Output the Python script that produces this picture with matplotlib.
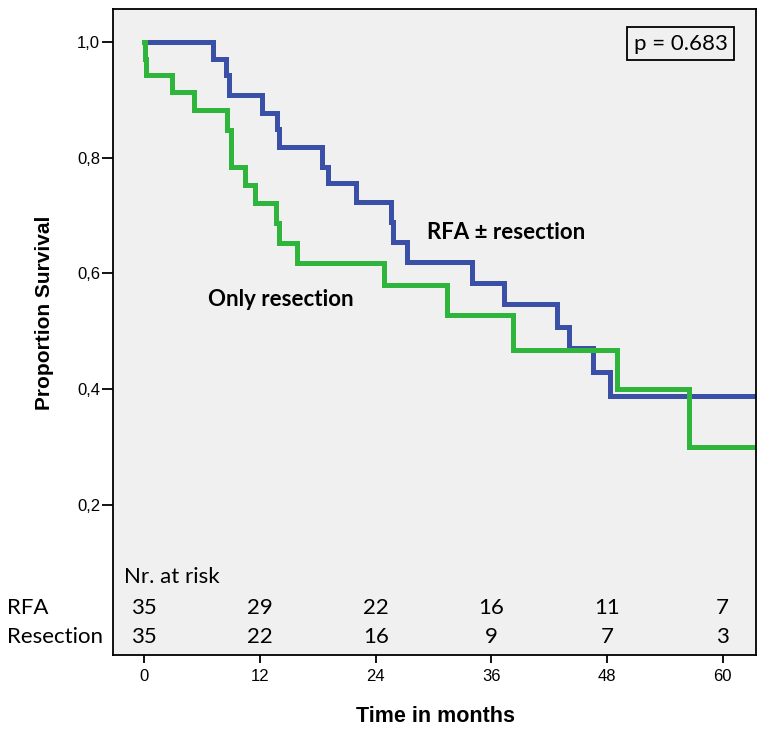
import matplotlib
matplotlib.use("Agg")
import matplotlib.pyplot as plt
import matplotlib.transforms as mtransforms

# Kaplan-Meier step data (months, proportion surviving)
rfa_time = [0, 7.1, 8.5, 8.8, 12.2, 13.8, 14.0, 18.4, 19.1, 22.0, 25.6, 25.8,
            27.2, 34.0, 37.3, 42.8, 44.1, 46.5, 48.3, 64]
rfa_surv = [1.0, 0.971, 0.943, 0.909, 0.877, 0.850, 0.819, 0.784, 0.756, 0.723,
            0.689, 0.654, 0.620, 0.583, 0.547, 0.507, 0.471, 0.430, 0.388, 0.388]

res_time = [0, 0.1, 0.2, 2.9, 5.2, 8.6, 9.0, 10.4, 11.5, 13.7, 14.0, 15.8,
            24.9, 31.4, 38.2, 49.0, 56.5, 64]
res_surv = [1.0, 0.971, 0.943, 0.914, 0.883, 0.848, 0.784, 0.753, 0.722, 0.687,
            0.653, 0.618, 0.580, 0.528, 0.468, 0.400, 0.300, 0.300]

# numbers at risk
risk_times = [0, 12, 24, 36, 48, 60]
risk_rfa = [35, 29, 22, 16, 11, 7]
risk_res = [35, 22, 16, 9, 7, 3]

y_ticks = [0.2, 0.4, 0.6, 0.8, 1.0]
y_ticklabels = ["0,2", "0,4", "0,6", "0,8", "1,0"]

blue = "#3a4fa6"
green = "#2fb53c"
label_font = ["Lato", "DejaVu Sans"]
arial = ["Liberation Sans", "DejaVu Sans"]

fig = plt.figure(figsize=(7.66, 7.31), dpi=100)
ax = fig.add_axes([0.1469, 0.104, 0.84, 0.8833])
ax.set_facecolor("#f0f0f0")

ax.step(rfa_time, rfa_surv, where="post", color=blue, lw=3.6, solid_joinstyle="miter")
ax.step(res_time, res_surv, where="post", color=green, lw=3.6, solid_joinstyle="miter")

ax.set_xlim(-3.3, 63.45)
ax.set_ylim(-0.06, 1.0565)

ax.set_xticks(risk_times)
ax.set_xticklabels([str(t) for t in risk_times], family=arial, fontsize=12)
ax.set_yticks(y_ticks)
ax.set_yticklabels(y_ticklabels, family=arial, fontsize=12)
ax.tick_params(axis="y", length=8, width=1.3, direction="out", pad=1)
ax.tick_params(axis="x", length=6, width=1.3, direction="out", pad=4)

for s in ax.spines.values():
    s.set_linewidth(1.3)
    s.set_color("black")

# curve labels
ax.text(29.3, 0.67, "RFA \u00b1 resection", family=label_font, fontsize=16,
        fontweight="bold", va="center", ha="left")
ax.text(6.6, 0.555, "Only resection", family=label_font, fontsize=16,
        fontweight="bold", va="center", ha="left")

# p-value box
ax.text(0.883, 0.9466, "p = 0.683", transform=ax.transAxes, family=label_font,
        fontsize=16, ha="center", va="center",
        bbox=dict(boxstyle="square,pad=0.3", fc="#f0f0f0", ec="black", lw=1.3))

# at-risk table
ax.text(-2.1, 0.075, "Nr. at risk", family=label_font, fontsize=16, va="center", ha="left")
for t, n1, n2 in zip(risk_times, risk_rfa, risk_res):
    ax.text(t, 0.0216, str(n1), family=label_font, fontsize=16, va="center", ha="center")
    ax.text(t, -0.0285, str(n2), family=label_font, fontsize=16, va="center", ha="center")

row_tr = mtransforms.blended_transform_factory(fig.transFigure, ax.transData)
ax.text(7 / 766, 0.0216, "RFA", transform=row_tr, family=label_font, fontsize=16,
        va="center", ha="left", clip_on=False)
ax.text(7 / 766, -0.0285, "Resection", transform=row_tr, family=label_font, fontsize=16,
        va="center", ha="left", clip_on=False)

# axis titles
fig.text(436 / 766, 1 - 717 / 731, "Time in months", family=arial,
         fontsize=15.5, fontweight="bold", ha="center", va="center")
fig.text(45 / 766, 1 - 313 / 731, "Proportion Survival", family=arial,
         fontsize=15, fontweight="bold", ha="center", va="center", rotation=90)

fig.savefig("out.png", dpi=100)
